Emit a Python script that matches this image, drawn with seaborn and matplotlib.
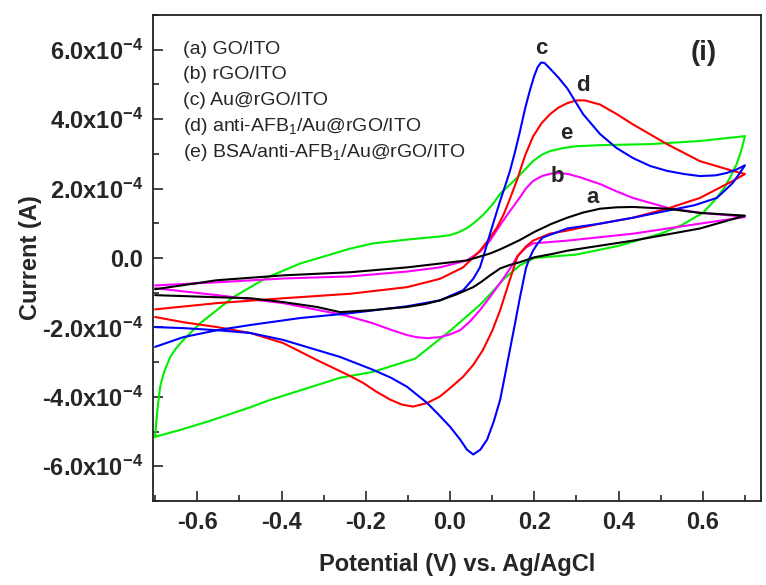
import numpy as np
import pandas as pd
import matplotlib
matplotlib.use("Agg")
import matplotlib.pyplot as plt
from matplotlib.ticker import MultipleLocator
import seaborn as sns

# ---------------- data (current in units of 1e-4 A) ----------------
# (a) GO/ITO  - black
a_fwd_V = [-0.70, -0.553, -0.396, -0.237, -0.102, -0.024, 0.040, 0.095, 0.119, 0.142, 0.166, 0.200, 0.240, 0.278, 0.316, 0.356, 0.395, 0.434, 0.515, 0.593, 0.70]
a_fwd_I = [-0.90, -0.64, -0.50, -0.41, -0.27, -0.16, -0.07, 0.13, 0.25, 0.38, 0.52, 0.75, 0.98, 1.16, 1.31, 1.42, 1.46, 1.47, 1.42, 1.30, 1.22]
a_rev_V = [0.70, 0.593, 0.434, 0.278, 0.240, 0.200, 0.166, 0.142, 0.119, 0.095, 0.075, 0.055, 0.015, -0.024, -0.060, -0.102, -0.183, -0.261, -0.316, -0.396, -0.474, -0.553, -0.70]
a_rev_I = [1.22, 0.85, 0.50, 0.21, 0.11, 0.02, -0.12, -0.20, -0.30, -0.50, -0.68, -0.84, -1.05, -1.22, -1.33, -1.41, -1.50, -1.56, -1.41, -1.27, -1.16, -1.13, -1.07]

# (b) rGO/ITO - magenta
b_fwd_V = [-0.70, -0.553, -0.396, -0.237, -0.102, -0.024, 0.040, 0.071, 0.095, 0.119, 0.142, 0.166, 0.180, 0.197, 0.218, 0.240, 0.260, 0.280, 0.310, 0.356, 0.395, 0.434, 0.515, 0.593, 0.671, 0.70]
b_fwd_I = [-0.79, -0.70, -0.59, -0.53, -0.39, -0.27, -0.07, 0.18, 0.50, 0.95, 1.35, 1.75, 2.00, 2.22, 2.36, 2.43, 2.45, 2.42, 2.32, 2.13, 1.92, 1.73, 1.45, 1.30, 1.22, 1.18]
b_rev_V = [0.70, 0.593, 0.434, 0.278, 0.197, 0.180, 0.160, 0.140, 0.120, 0.095, 0.071, 0.048, 0.024, 0.0, -0.024, -0.055, -0.080, -0.102, -0.140, -0.183, -0.250, -0.396, -0.553, -0.70]
b_rev_I = [1.18, 0.99, 0.70, 0.50, 0.42, 0.30, 0.05, -0.35, -0.70, -1.12, -1.50, -1.82, -2.08, -2.20, -2.28, -2.31, -2.28, -2.22, -2.07, -1.88, -1.65, -1.30, -1.07, -0.87]

# (c) Au@rGO/ITO - blue
c_fwd_V = [-0.70, -0.633, -0.553, -0.474, -0.356, -0.237, -0.102, -0.024, 0.031, 0.055, 0.071, 0.083, 0.095, 0.107, 0.119, 0.130, 0.142, 0.154, 0.166, 0.178, 0.190, 0.200, 0.208, 0.216, 0.224, 0.237, 0.257, 0.278, 0.316, 0.356, 0.395, 0.434, 0.475, 0.515, 0.555, 0.593, 0.630, 0.657, 0.680, 0.70]
c_fwd_I = [-2.56, -2.28, -2.08, -1.93, -1.73, -1.59, -1.39, -1.22, -0.93, -0.60, -0.27, 0.20, 0.70, 1.18, 1.65, 2.05, 2.50, 3.05, 3.65, 4.30, 4.85, 5.25, 5.50, 5.63, 5.62, 5.46, 5.20, 4.89, 4.14, 3.57, 3.17, 2.88, 2.65, 2.51, 2.42, 2.36, 2.38, 2.45, 2.55, 2.67]
c_rev_V = [0.70, 0.685, 0.670, 0.650, 0.633, 0.580, 0.515, 0.434, 0.356, 0.278, 0.220, 0.208, 0.197, 0.188, 0.180, 0.166, 0.154, 0.142, 0.130, 0.119, 0.104, 0.088, 0.072, 0.055, 0.040, 0.024, 0.0, -0.028, -0.055, -0.102, -0.140, -0.183, -0.261, -0.396, -0.474, -0.553, -0.633, -0.70]
c_rev_I = [2.67, 2.40, 2.15, 1.92, 1.73, 1.52, 1.36, 1.16, 0.99, 0.85, 0.59, 0.42, 0.21, -0.02, -0.30, -1.13, -1.90, -2.65, -3.40, -4.08, -4.70, -5.23, -5.52, -5.66, -5.52, -5.23, -4.86, -4.50, -4.17, -3.71, -3.45, -3.22, -2.85, -2.36, -2.16, -2.08, -2.02, -1.99]

# (d) anti-AFB1/Au@rGO/ITO - red
d_fwd_V = [-0.70, -0.553, -0.396, -0.237, -0.102, -0.024, 0.031, 0.071, 0.091, 0.111, 0.127, 0.142, 0.159, 0.178, 0.197, 0.217, 0.237, 0.257, 0.278, 0.300, 0.320, 0.356, 0.395, 0.434, 0.515, 0.593, 0.671, 0.70]
d_fwd_I = [-1.48, -1.30, -1.16, -1.03, -0.84, -0.60, -0.27, 0.21, 0.52, 0.87, 1.25, 1.70, 2.25, 2.95, 3.50, 3.88, 4.14, 4.33, 4.46, 4.54, 4.54, 4.42, 4.15, 3.85, 3.28, 2.79, 2.51, 2.42]
d_rev_V = [0.70, 0.671, 0.593, 0.515, 0.434, 0.356, 0.278, 0.237, 0.197, 0.180, 0.160, 0.140, 0.119, 0.100, 0.078, 0.055, 0.031, 0.0, -0.024, -0.055, -0.088, -0.115, -0.142, -0.175, -0.206, -0.237, -0.316, -0.396, -0.474, -0.553, -0.633, -0.70]
d_rev_I = [2.42, 2.22, 1.73, 1.42, 1.16, 0.99, 0.79, 0.70, 0.50, 0.33, 0.05, -0.70, -1.50, -2.10, -2.65, -3.08, -3.42, -3.75, -3.99, -4.18, -4.28, -4.22, -4.08, -3.85, -3.60, -3.40, -2.94, -2.45, -2.16, -1.99, -1.85, -1.70]

# (e) BSA/anti-AFB1/Au@rGO/ITO - green
e_fwd_V = [-0.70, -0.697, -0.693, -0.688, -0.682, -0.676, -0.664, -0.650, -0.633, -0.593, -0.515, -0.434, -0.356, -0.237, -0.183, -0.102, -0.060, -0.024, 0.0, 0.020, 0.040, 0.060, 0.080, 0.100, 0.119, 0.159, 0.197, 0.217, 0.237, 0.270, 0.300, 0.356, 0.474, 0.593, 0.70]
e_fwd_I = [-5.15, -4.70, -4.20, -3.71, -3.42, -3.20, -2.85, -2.60, -2.36, -1.88, -1.13, -0.56, -0.16, 0.27, 0.42, 0.53, 0.58, 0.62, 0.66, 0.74, 0.86, 1.04, 1.26, 1.53, 1.85, 2.31, 2.79, 2.97, 3.08, 3.17, 3.22, 3.25, 3.28, 3.37, 3.51]
e_rev_V = [0.70, 0.69, 0.68, 0.665, 0.65, 0.625, 0.60, 0.55, 0.50, 0.40, 0.30, 0.20, 0.166, 0.128, 0.10, 0.071, 0.033, 0.0, -0.083, -0.183, -0.261, -0.339, -0.43, -0.474, -0.572, -0.64, -0.70]
e_rev_I = [3.51, 3.05, 2.70, 2.33, 2.00, 1.62, 1.30, 0.95, 0.70, 0.35, 0.10, 0.0, -0.21, -0.60, -0.98, -1.35, -1.75, -2.10, -2.90, -3.28, -3.45, -3.75, -4.10, -4.30, -4.70, -4.95, -5.15]

curve_names = ["a", "b", "c", "d", "e"]
curve_colors = {"a": "#000000", "b": "#ff00ff", "c": "#0000ff", "d": "#ff0000", "e": "#00ee00"}
legend_lines = ["(a) GO/ITO", "(b) rGO/ITO", "(c) Au@rGO/ITO",
                "(d) anti-AFB$_1$/Au@rGO/ITO", "(e) BSA/anti-AFB$_1$/Au@rGO/ITO"]
x_ticks = [-0.6, -0.4, -0.2, 0.0, 0.2, 0.4, 0.6]
y_ticks = [-6e-4, -4e-4, -2e-4, 0.0, 2e-4, 4e-4, 6e-4]
y_ticklabels = [r"-6.0x10$^{\mathbf{-4}}$", r"-4.0x10$^{\mathbf{-4}}$", r"-2.0x10$^{\mathbf{-4}}$", "0.0",
                r"2.0x10$^{\mathbf{-4}}$", r"4.0x10$^{\mathbf{-4}}$", r"6.0x10$^{\mathbf{-4}}$"]
# curve letter labels (V, current in 1e-4 A)
letter_pos = {"c": (0.216, 6.03), "d": (0.316, 4.97), "e": (0.275, 3.60), "b": (0.254, 2.36), "a": (0.339, 1.73)}

# ---------------- build table ----------------
series = {
    "a": (a_fwd_V + a_rev_V, a_fwd_I + a_rev_I),
    "b": (b_fwd_V + b_rev_V, b_fwd_I + b_rev_I),
    "c": (c_fwd_V + c_rev_V, c_fwd_I + c_rev_I),
    "d": (d_fwd_V + d_rev_V, d_fwd_I + d_rev_I),
    "e": (e_fwd_V + e_rev_V, e_fwd_I + e_rev_I),
}
frames = []
for name in curve_names:
    V, I = series[name]
    frames.append(pd.DataFrame({"V": V, "I": np.array(I) * 1e-4, "curve": name}))
df = pd.concat(frames, ignore_index=True)

# ---------------- plot ----------------
sns.set_style("ticks")
plt.rcParams["font.family"] = ["Liberation Sans", "DejaVu Sans"]
plt.rcParams["mathtext.fontset"] = "custom"
plt.rcParams["mathtext.rm"] = "Liberation Sans"
plt.rcParams["mathtext.bf"] = "Liberation Sans:bold"
plt.rcParams["mathtext.it"] = "Liberation Sans:italic"
plt.rcParams["lines.solid_joinstyle"] = "round"

fig = plt.figure(figsize=(7.66, 5.85), dpi=100)
ax = fig.add_axes([153 / 766, 1 - 501 / 585, 608 / 766, 486 / 585])

draw_order = ["e", "b", "d", "c", "a"]
for name in draw_order:
    sub = df[df["curve"] == name]
    sns.lineplot(data=sub, x="V", y="I", sort=False, estimator=None,
                 color=curve_colors[name], linewidth=1.5, ax=ax, legend=False)

ax.set_xlim(-0.705, 0.738)
ax.set_ylim(-7e-4, 7e-4)
ax.set_xticks(x_ticks)
ax.set_xticklabels([f"{v:.1f}" for v in x_ticks])
ax.set_yticks(y_ticks)
ax.set_yticklabels(y_ticklabels)
ax.xaxis.set_minor_locator(MultipleLocator(0.1))
ax.yaxis.set_minor_locator(MultipleLocator(1e-4))
ax.tick_params(which="major", direction="in", length=7, width=1.2, labelsize=17, pad=7)
ax.tick_params(which="minor", direction="in", length=4, width=1.2)
ax.tick_params(top=False, right=False, which="both")
for lab in ax.get_xticklabels() + ax.get_yticklabels():
    lab.set_fontweight("bold")
for sp in ax.spines.values():
    sp.set_linewidth(1.3)
    sp.set_color("#222222")
    sp.set_visible(True)

ax.set_xlabel("Potential (V) vs. Ag/AgCl", fontsize=17, fontweight="bold", labelpad=14)
ax.set_ylabel("Current (A)", fontsize=17, fontweight="bold")
ax.yaxis.set_label_coords(-0.182, 0.5)

for i, txt in enumerate(legend_lines):
    ax.text(0.049, 0.930 - i * 0.053, txt, transform=ax.transAxes, fontsize=14,
            ha="left", va="center")
for name, (vx, vy) in letter_pos.items():
    ax.text(vx, vy * 1e-4, name, fontsize=16, fontweight="bold", ha="center", va="center")
ax.text(0.906, 0.922, "(i)", transform=ax.transAxes, fontsize=20, fontweight="bold",
        ha="center", va="center")

fig.savefig("out.png", dpi=100)
